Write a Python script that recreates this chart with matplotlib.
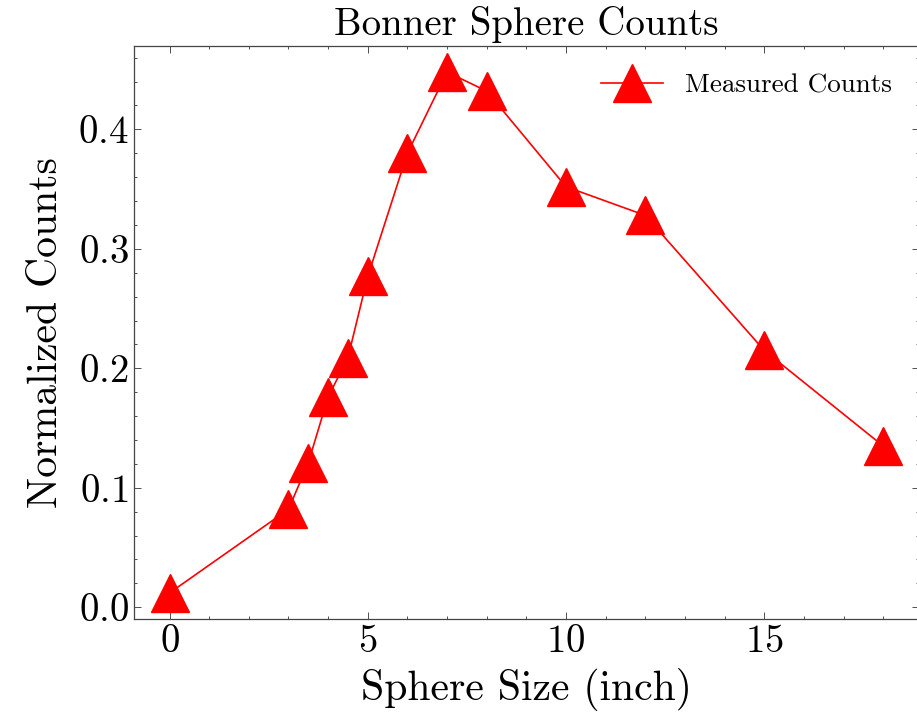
import matplotlib
matplotlib.use('Agg')
import matplotlib.pyplot as plt
from matplotlib.ticker import AutoMinorLocator

# sphere diameters (inch) and normalized counts
sphere_size = [0, 3, 3.5, 4, 4.5, 5, 6, 7, 8, 10, 12, 15, 18]
counts = [0.012, 0.082, 0.121, 0.176, 0.209, 0.277, 0.380, 0.448, 0.432,
          0.352, 0.328, 0.215, 0.135]

plt.rcParams['font.family'] = 'serif'
plt.rcParams['font.serif'] = ['cmr10']
plt.rcParams['mathtext.fontset'] = 'cm'
plt.rcParams['axes.formatter.use_mathtext'] = True

fig = plt.figure(figsize=(9.17, 7.16), dpi=100)
ax = fig.add_axes([0.146, 0.1355, 0.856, 0.8003])

ax.plot(sphere_size, counts, color='red', linewidth=1.2, marker='^',
        markersize=27, label='Measured Counts')

ax.set_title('Bonner Sphere Counts', fontsize=28, pad=8)
ax.set_xlabel('Sphere Size (inch)', fontsize=30, labelpad=6)
ax.set_ylabel('Normalized Counts', fontsize=30, labelpad=10)

ax.xaxis.set_minor_locator(AutoMinorLocator(5))
ax.yaxis.set_minor_locator(AutoMinorLocator(5))
ax.tick_params(which='both', direction='in', top=True, right=True,
               labelsize=28, width=0.6, color='#333333')
ax.tick_params(which='major', length=5)
ax.tick_params(which='minor', length=2.5)
for s in ax.spines.values():
    s.set_linewidth(0.9)
    s.set_color('#444444')

ax.legend(loc='upper right', frameon=False, fontsize=19.5,
          handlelength=2.3, borderaxespad=0.6)

plt.savefig('out.png', dpi=100)
